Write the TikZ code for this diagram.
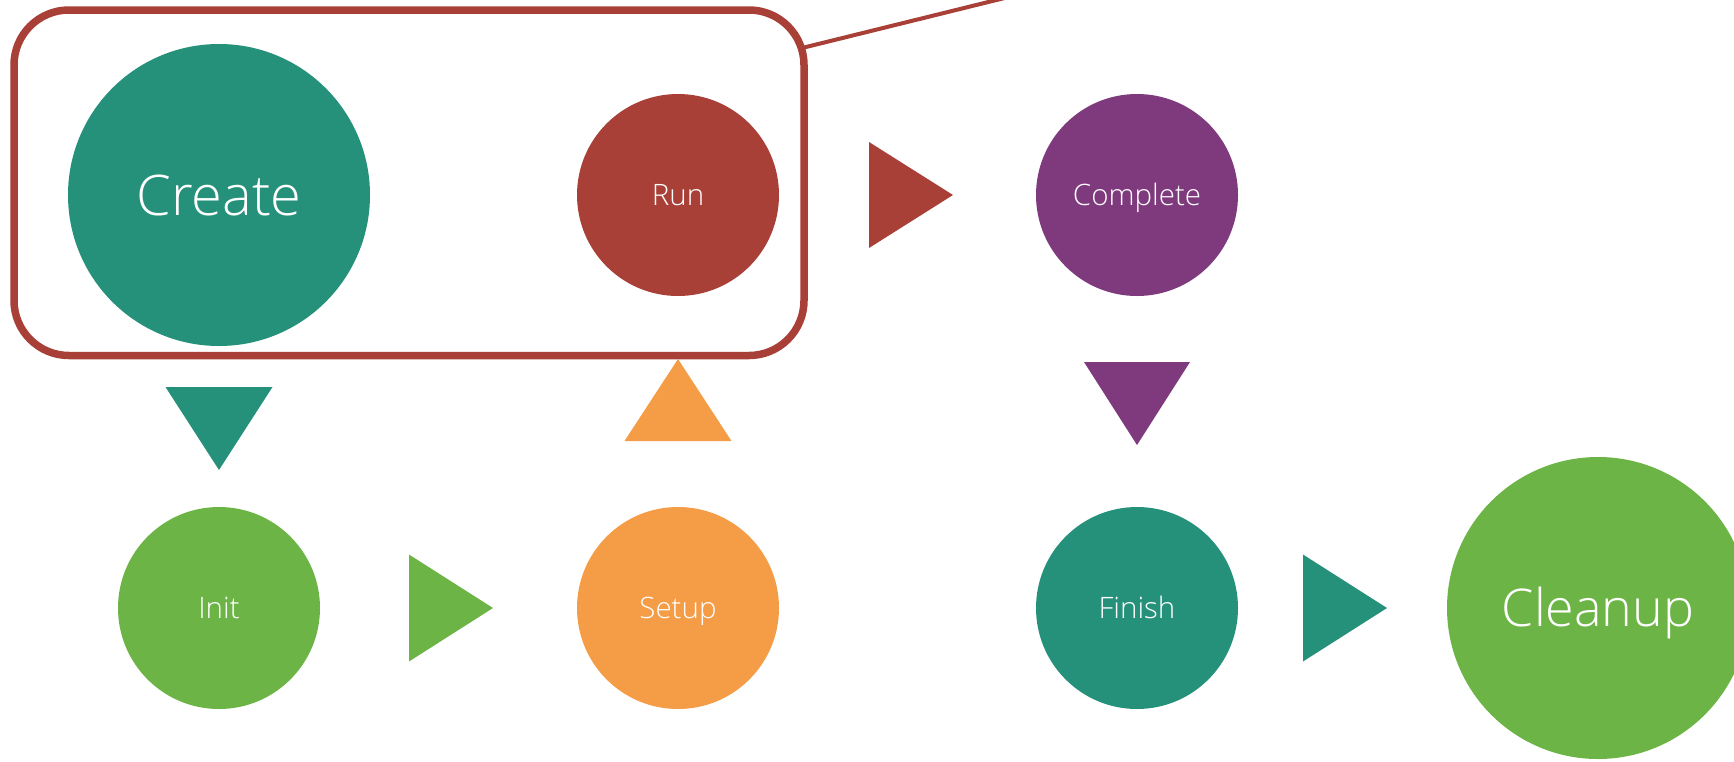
\documentclass[tikz,border=0pt]{standalone}
\usepackage{fontspec}
\setmainfont{Open Sans Light}
\usetikzlibrary{calc}

\definecolor{stepteal}{RGB}{38,145,122}
\definecolor{stepred}{RGB}{168,64,56}
\definecolor{steppurple}{RGB}{127,58,126}
\definecolor{stepgreen}{RGB}{109,180,70}
\definecolor{steporange}{RGB}{244,156,70}

\tikzset{
  stepcircle/.style={circle, inner sep=0pt, text=white, text depth=0pt},
  bigstep/.style={stepcircle, minimum size=302pt},
  smallstep/.style={stepcircle, minimum size=202pt, text height=21pt,
    font=\fontsize{29.5}{33}\selectfont},
  groupframe/.style={draw=stepred, line width=7.5pt, rounded corners=55pt,
    inner sep=0pt},
  leader/.style={draw=stepred, line width=4pt},
}

\begin{document}
\begin{tikzpicture}[x=1pt, y=-1pt]
  \useasboundingbox (0,0) rectangle (1734,761);

  % process steps
  \node[bigstep, fill=stepteal, text height=40pt,
        font=\fontsize{56}{60}\selectfont]
    (create) at (219,195) {Create};
  \node[smallstep, fill=stepred]    (run)      at (678,195)  {Run};
  \node[smallstep, fill=steppurple] (complete) at (1137,195) {Complete};
  \node[smallstep, fill=stepgreen]  (init)     at (219,608)  {Init};
  \node[smallstep, fill=steporange] (setup)    at (678,608)  {Setup};
  \node[smallstep, fill=stepteal]   (finish)   at (1137,608) {Finish};
  \node[bigstep, fill=stepgreen, text height=37pt,
        font=\fontsize{52}{56}\selectfont]
    (cleanup) at (1598,608) {Cleanup};

  % frame round the first two steps, with its leader line
  \node[groupframe, minimum width=790pt, minimum height=345.5pt]
    (frame) at (409,182.75) {};
  \coordinate (leadA) at (802,48);
  \coordinate (leadB) at (1037,-10);
  \draw[leader] (leadA) -- (leadB);

  % triangular arrows between the steps
  \fill[stepteal]
    ($(create.south)!0.5!(init.north)$) ++(-53.5,-39.5) -- ++(107,0) -- ++(-53.5,83) -- cycle;
  \fill[steporange]
    ($(setup.north)!0.5!(run.south)$) ++(-53.5,39.5) -- ++(107,0) -- ++(-53.5,-82) -- cycle;
  \fill[steppurple]
    ($(complete.south)!0.5!(finish.north)$) ++(-53,-39.5) -- ++(106,0) -- ++(-53,83) -- cycle;
  \fill[stepred]
    ($(run.east)!0.5!(complete.west)$) ++(-38.5,-53) -- ++(0,106) -- ++(84,-53) -- cycle;
  \fill[stepgreen]
    ($(init.east)!0.5!(setup.west)$) ++(-39.5,-53.5) -- ++(0,107) -- ++(84,-53.5) -- cycle;
  \fill[stepteal]
    ($(finish.east)!0.5!(cleanup.west)$) ++(-39.5,-53.5) -- ++(0,107) -- ++(84,-53.5) -- cycle;
\end{tikzpicture}
\end{document}
